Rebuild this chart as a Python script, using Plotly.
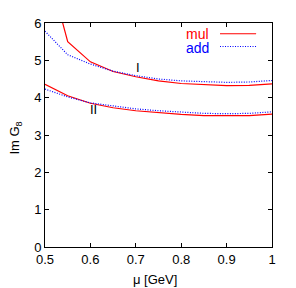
import plotly.graph_objects as go

mu = [0.5, 0.55, 0.6, 0.65, 0.7, 0.75, 0.8, 0.85, 0.9, 0.95, 1.0]
mul_I = [7.77, 5.5, 4.96, 4.70, 4.56, 4.45, 4.38, 4.34, 4.32, 4.33, 4.37]
add_I = [5.78, 5.15, 4.90, 4.71, 4.59, 4.50, 4.45, 4.42, 4.41, 4.42, 4.46]
mul_II = [4.36, 4.05, 3.85, 3.73, 3.65, 3.59, 3.55, 3.52, 3.51, 3.52, 3.56]
add_II = [4.23, 4.02, 3.86, 3.77, 3.70, 3.65, 3.61, 3.58, 3.57, 3.58, 3.62]

x_ticks = [0.5, 0.6, 0.7, 0.8, 0.9, 1.0]
x_tick_text = ["0.5", "0.6", "0.7", "0.8", "0.9", "1"]
y_ticks = [0, 1, 2, 3, 4, 5, 6]

RED = "#ff0000"
BLUE = "#0000ff"
FONT = "Liberation Sans, Arial, sans-serif"
DOT = "1px,1.5px"

fig = go.Figure()
for ys in (mul_I, mul_II):
    fig.add_trace(go.Scatter(x=mu, y=ys, mode="lines",
                             line=dict(color=RED, width=1.2), showlegend=False))
for ys in (add_I, add_II):
    fig.add_trace(go.Scatter(x=mu, y=ys, mode="lines",
                             line=dict(color=BLUE, width=1.2, dash=DOT), showlegend=False))

axis_common = dict(showline=True, linecolor="black", linewidth=1, mirror="ticks",
                   ticks="inside", ticklen=4, tickcolor="black", showgrid=False,
                   zeroline=False, tickfont=dict(family=FONT, size=13, color="black"))

fig.update_xaxes(range=[0.5, 1.0], tickvals=x_ticks, ticktext=x_tick_text, **axis_common)
fig.update_yaxes(range=[0, 6], tickvals=y_ticks, **axis_common)

# curve labels
fig.add_annotation(x=0.704, y=4.80, text="I", showarrow=False,
                   font=dict(family=FONT, size=13, color="black"))
fig.add_annotation(x=0.607, y=3.69, text="II", showarrow=False,
                   font=dict(family=FONT, size=13, color="black"))

# axis titles
fig.add_annotation(xref="paper", yref="paper", x=0.485, y=-0.147, yanchor="middle",
                   text="μ [GeV]", showarrow=False,
                   font=dict(family=FONT, size=13, color="black"))
fig.add_annotation(xref="paper", yref="paper", x=-0.131, y=0.485, xanchor="center",
                   yanchor="middle", text="Im G<sub>8</sub>", textangle=-90, showarrow=False,
                   font=dict(family=FONT, size=13, color="black"))

# legend (gnuplot style: text left, sample right)
fig.add_annotation(xref="paper", yref="paper", x=0.731, y=0.953, xanchor="right",
                   yanchor="middle", text="mul", showarrow=False,
                   font=dict(family=FONT, size=14, color=RED))
fig.add_annotation(xref="paper", yref="paper", x=0.731, y=0.89, xanchor="right",
                   yanchor="middle", text="add", showarrow=False,
                   font=dict(family=FONT, size=14, color=BLUE))
fig.add_shape(type="line", xref="paper", yref="paper", x0=0.771, x1=0.93, y0=0.952, y1=0.952,
              line=dict(color=RED, width=1.2))
fig.add_shape(type="line", xref="paper", yref="paper", x0=0.771, x1=0.93, y0=0.895, y1=0.895,
              line=dict(color=BLUE, width=1.2, dash=DOT))

# page body has an 8px margin: figure is 8px smaller, margins shifted
fig.update_layout(width=288, height=280, margin=dict(l=37, r=24, t=8, b=41),
                  plot_bgcolor="white", paper_bgcolor="white", showlegend=False)

fig.write_html("out.html")
